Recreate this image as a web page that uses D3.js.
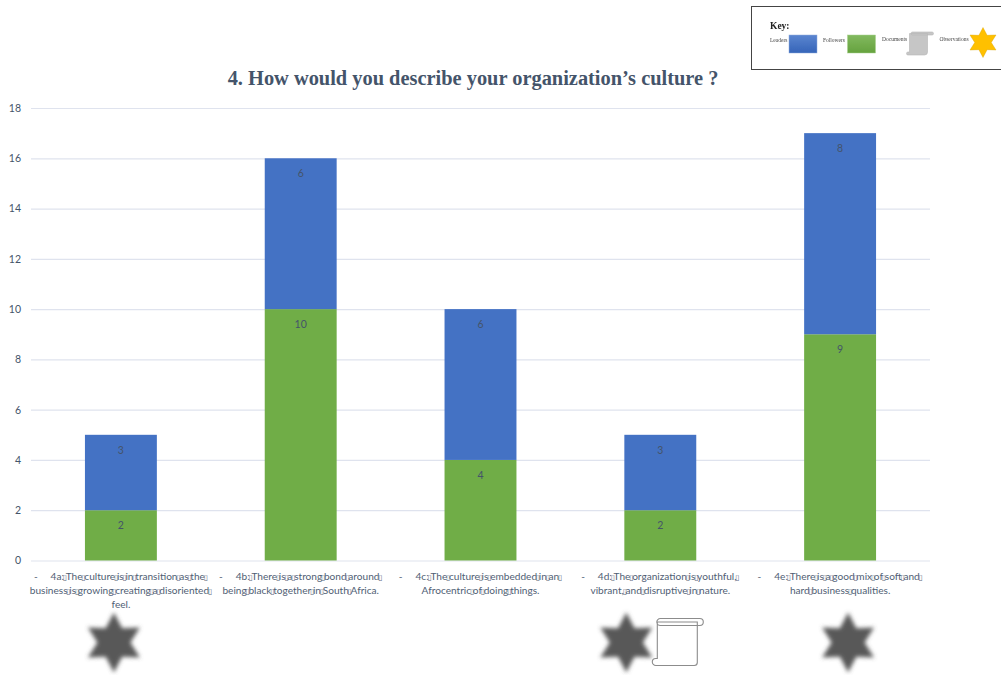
<!DOCTYPE html>
<html>
<head>
<meta charset="utf-8">
<script src="https://cdn.jsdelivr.net/npm/d3@7"></script>
<style>
  html, body { margin: 0; padding: 0; background: #fff; }
  svg { display: block; }
</style>
</head>
<body>
<script>
const categories = ["4a", "4b", "4c", "4d", "4e"];
const followers = [2, 10, 4, 2, 9];
const leaders = [3, 6, 6, 3, 8];
const yTicks = [0, 2, 4, 6, 8, 10, 12, 14, 16, 18];
const gap = "\u00A0\u00A0\u00A0\u00A0\u00A0";
const categoryLines = [
    ["-" + gap + "4a:|The|culture|is|in|transition|as|the|", "business|is|growing|creating|a|disoriented|", "feel."],
    ["-" + gap + "4b:|There|is|a|strong|bond|around|", "being|black|together|in|South|Africa."],
    ["-" + gap + "4c:|The|culture|is|embedded|in|an|", "Afrocentric|of|doing|things."],
    ["-" + gap + "4d:|The|organization|is|youthful,|", "vibrant,|and|disruptive|in|nature."],
    ["-" + gap + "4e:|There|is|a|good|mix|of|soft|and|", "hard|business|qualities."]
];
const observedIn = ["4a", "4d", "4e"];
const documentedIn = ["4d"];
const legendItems = ["Leaders", "Followers", "Documents", "Observations"];

const slate = "#44546a";
const blue = "#4472c4";
const green = "#70ad47";

const svg = d3.select("body").append("svg")
    .attr("width", 1001)
    .attr("height", 675)
    .attr("viewBox", [0, 0, 1001, 675]);

const defs = svg.append("defs");
defs.append("filter").attr("id", "soft")
    .attr("x", "-20%").attr("y", "-20%").attr("width", "140%").attr("height", "140%")
    .append("feGaussianBlur").attr("stdDeviation", 2);
defs.append("filter").attr("id", "softLegend")
    .attr("x", "-20%").attr("y", "-20%").attr("width", "140%").attr("height", "140%")
    .append("feGaussianBlur").attr("stdDeviation", 0.6);

function swatchGradient(id, top, bottom)
{
    const g = defs.append("linearGradient").attr("id", id)
        .attr("x1", 0).attr("y1", 0).attr("x2", 0).attr("y2", 1);
    g.append("stop").attr("offset", 0).attr("stop-color", top);
    g.append("stop").attr("offset", 1).attr("stop-color", bottom);
}
swatchGradient("gradBlue", "#5b85d0", "#3564b8");
swatchGradient("gradGreen", "#82b95f", "#65a23e");

// scales
const xScale = d3.scaleBand(categories, [31, 930]).paddingInner(0.6).paddingOuter(0.3);
const yScale = d3.scaleLinear([0, 18], [560.5, 108]);

// title
svg.append("text")
    .attr("x", 473)
    .attr("y", 85)
    .attr("text-anchor", "middle")
    .attr("font-family", "'Liberation Serif', serif")
    .attr("font-weight", "bold")
    .attr("font-size", 20.4)
    .attr("fill", slate)
    .text("4. How would you describe your organization’s culture ?");

// y axis and gridlines
svg.append("g")
    .attr("transform", "translate(31,0)")
    .call(d3.axisLeft(yScale).tickValues(yTicks).tickSize(0).tickPadding(10))
    .call(g => g.select(".domain").remove())
    .call(g => g.selectAll(".tick line").clone()
        .attr("x2", 899)
        .attr("stroke", "#dfe3ee")
        .attr("stroke-width", 1.2))
    .call(g => g.selectAll("text")
        .attr("font-family", "Lato, sans-serif")
        .attr("font-size", 10.5)
        .attr("fill", slate));

// x axis, labels are split up by hand below
const xAxis = svg.append("g")
    .attr("transform", "translate(0,560.5)")
    .call(d3.axisBottom(xScale).tickSize(0).tickFormat(""))
    .call(g => g.select(".domain").remove());

xAxis.selectAll(".tick text")
    .attr("y", 0)
    .attr("dy", null)
    .attr("font-family", "Lato, sans-serif")
    .attr("font-size", 10.1)
    .attr("fill", "#4f5e74")
    .each(function(d, i) {
        const label = d3.select(this);
        categoryLines[i].forEach((line, n) => {
            line.split("|").forEach((word, w) => {
                if (w > 0)
                {
                    label.append("tspan")
                        .attr("font-size", 7.5)
                        .attr("font-family", "'DejaVu Sans', sans-serif")
                        .attr("fill", "#5f6b7e")
                        .attr("dx", -1.2)
                        .text("\u25AF");
                    if (word == "") return;
                }
                const t = label.append("tspan").text(word).attr("dx", w > 0 ? -1.2 : 0);
                if (w == 0)
                {
                    t.attr("x", 0).attr("y", 19 + n * 14);
                }
            });
        });
    });

// stacked bars
const rows = categories.map((c, i) => ({category: c, followers: followers[i], leaders: leaders[i]}));
const series = d3.stack().keys(["followers", "leaders"])(rows);
const colors = {followers: green, leaders: blue};

svg.append("g")
    .selectAll("g")
    .data(series)
    .join("g")
    .attr("fill", d => colors[d.key])
    .selectAll("rect")
    .data(d => d)
    .join("rect")
    .attr("x", d => xScale(d.data.category))
    .attr("width", xScale.bandwidth())
    .attr("y", d => yScale(d[1]))
    .attr("height", d => yScale(d[0]) - yScale(d[1]));

// value labels sit just under the top of each segment
svg.append("g")
    .attr("font-family", "Lato, sans-serif")
    .attr("font-size", 10.5)
    .attr("fill", slate)
    .attr("text-anchor", "middle")
    .selectAll("g")
    .data(series)
    .join("g")
    .selectAll("text")
    .data(d => d.map(p => ({top: p[1], value: p[1] - p[0], category: p.data.category})))
    .join("text")
    .attr("x", d => xScale(d.category) + xScale.bandwidth() / 2)
    .attr("y", d => yScale(d.top) + 19)
    .text(d => d.value);

// six pointed star
function starPath(r)
{
    return d3.lineRadial()
        .angle((d, i) => i * Math.PI / 6)
        .radius((d, i) => i % 2 ? r * 0.55 : r)
        .curve(d3.curveLinearClosed)(d3.range(12));
}

// open scroll: body with a curl bottom left, roll of radius r across the top
function scrollPath(w, h, r)
{
    return `M${r + 1.5},${r} H${w - 6} V${h - 3} a3,3 0 0 1 -3,3 H${r} a${r},${r} 0 0 1 0,${-2 * r} H${r + 1.5} Z`
        + ` M${r + 4.5},0 H${w - r} a${r},${r} 0 0 1 0,${2 * r} H${r + 4.5} a${r},${r} 0 0 1 0,${-2 * r} Z`;
}

// markers under the bars, shifted off the band centre
const starShift = {"4a": -7, "4d": -34, "4e": 8};
const scrollShift = {"4d": -8};
const bandMid = c => xScale(c) + xScale.bandwidth() / 2;

svg.append("g")
    .selectAll("path")
    .data(observedIn)
    .join("path")
    .attr("d", starPath(30))
    .attr("transform", d => `translate(${bandMid(d) + starShift[d]},642.5)`)
    .attr("fill", "#595959")
    .attr("filter", "url(#soft)");

svg.append("g")
    .selectAll("path")
    .data(documentedIn)
    .join("path")
    .attr("d", scrollPath(51, 47, 3.5))
    .attr("transform", d => `translate(${bandMid(d) + scrollShift[d]},618.5)`)
    .attr("fill", "#fff")
    .attr("stroke", "#8c8c8c")
    .attr("stroke-width", 1.1);

// key box
const key = svg.append("g");
key.append("rect")
    .attr("x", 751.5).attr("y", 6.5)
    .attr("width", 300).attr("height", 63)
    .attr("fill", "#fff")
    .attr("stroke", "#444")
    .attr("stroke-width", 1);

const keyBody = key.append("g").attr("filter", "url(#softLegend)");
keyBody.append("text")
    .attr("x", 770).attr("y", 29)
    .attr("font-family", "'Liberation Serif', serif")
    .attr("font-weight", "bold")
    .attr("font-size", 9.5)
    .attr("fill", "#222")
    .text("Key:");

const keyLabelX = [770, 823, 882, 939.5];
const keyLabelY = [42, 42, 41, 41];
keyBody.selectAll(".key-label")
    .data(legendItems)
    .join("text")
    .attr("class", "key-label")
    .attr("x", (d, i) => keyLabelX[i])
    .attr("y", (d, i) => keyLabelY[i])
    .attr("font-family", "'Liberation Serif', serif")
    .attr("font-size", 5.5)
    .attr("fill", "#444")
    .text(d => d);

keyBody.append("rect")
    .attr("x", 789).attr("y", 35).attr("width", 28).attr("height", 18)
    .attr("fill", "url(#gradBlue)").attr("stroke", "#8faadc").attr("stroke-width", 0.5);
keyBody.append("rect")
    .attr("x", 847.5).attr("y", 35).attr("width", 28).attr("height", 18)
    .attr("fill", "url(#gradGreen)").attr("stroke", "#a9d18e").attr("stroke-width", 0.5);
keyBody.append("path")
    .attr("d", scrollPath(27, 23, 1.5))
    .attr("transform", "translate(906.5,32)")
    .attr("fill", "#c6c6c6")
    .attr("stroke", "#b5b5b5")
    .attr("stroke-width", 0.6);
keyBody.append("path")
    .attr("d", starPath(15))
    .attr("transform", "translate(983,42.5)")
    .attr("fill", "#ffc000")
    .attr("stroke", "#d9a400")
    .attr("stroke-width", 0.4);
</script>
</body>
</html>
